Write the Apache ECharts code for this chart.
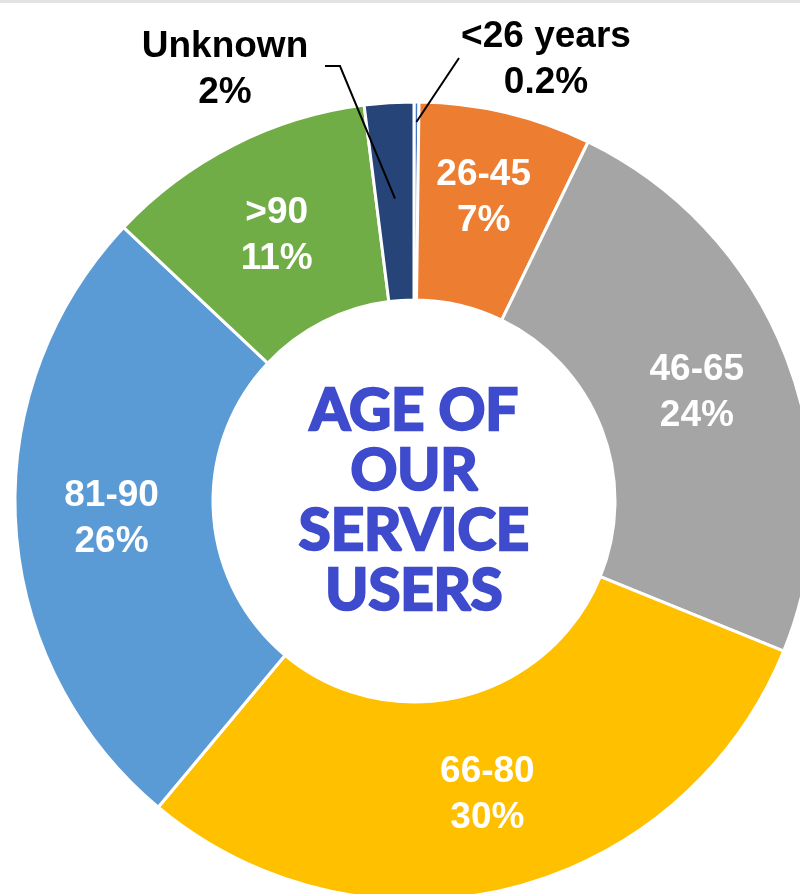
<!DOCTYPE html>
<html>
<head>
<meta charset="utf-8">
<script src="https://cdn.jsdelivr.net/npm/echarts@6/dist/echarts.min.js"></script>
<style>
  html, body { margin: 0; padding: 0; background: #fff; }
  #chart { width: 800px; height: 894px; }
</style>
</head>
<body>
<div id="chart"></div>
<script>
// age bands, clockwise from the top
var categories = ['<26 years', '26-45', '46-65', '66-80', '81-90', '>90', 'Unknown'];
var shares = [0.2, 7, 24, 30, 26, 11, 2];
var colors = ['#4472C4', '#ED7D31', '#A5A5A5', '#FFC000', '#5B9BD5', '#70AD47', '#264478'];
var centerTitle = 'AGE OF\nOUR\nSERVICE\nUSERS';

var cx = 414, cy = 501, r0 = 201, r1 = 399;
var total = shares.reduce(function (a, b) { return a + b; }, 0);

// point on the ring at the middle of slice i, at radius r
function slicePoint(i, r) {
    var before = 0;
    for (var k = 0; k < i; k++) before += shares[k];
    var a = (before + shares[i] / 2) / total * 2 * Math.PI;
    return [cx + r * Math.sin(a), cy - r * Math.cos(a)];
}

// labels placed above the ring for the two thin slices
var callouts = {
    '<26 years': { x: 546, y: 60, line: [[459, 58]], depth: 379 },
    'Unknown': { x: 225, y: 70, line: [[340, 66], [325, 66]], depth: 303 }
};
// small nudges to match where the inside labels sit
var nudge = { '26-45': -8, '>90': 5 };

var leaders = categories.map(function (c, i) {
    if (!callouts[c]) return null;
    return {
        type: 'polyline',
        z: 10,
        shape: { points: [slicePoint(i, callouts[c].depth)].concat(callouts[c].line) },
        style: { stroke: '#000', lineWidth: 2, fill: null }
    };
}).filter(Boolean);

var chart = echarts.init(document.getElementById('chart'));

chart.setOption({
    animation: false,
    graphic: [{
        type: 'rect',
        shape: { x: 0, y: 0, width: 800, height: 3 },
        style: { fill: '#e2e2e2' }
    }, {
        type: 'text',
        x: cx,
        y: cy,
        style: {
            text: centerTitle,
            align: 'center',
            verticalAlign: 'middle',
            font: 'bold 58px Lato',
            lineHeight: 60,
            fill: '#3E4BCD',
            stroke: '#3E4BCD',
            lineWidth: 2.5,
            lineJoin: 'round'
        }
    }].concat(leaders),
    series: [{
        type: 'pie',
        center: [cx, cy],
        radius: [r0, r1],
        startAngle: 90,
        clockwise: true,
        itemStyle: { borderColor: '#fff', borderWidth: 3 },
        label: {
            position: 'inside',
            formatter: '{b}\n{c}%',
            color: '#fff',
            fontFamily: 'Liberation Sans',
            fontWeight: 'bold',
            fontSize: 37,
            lineHeight: 46
        },
        labelLine: { show: false },
        labelLayout: function (p) {
            var name = categories[p.dataIndex];
            if (callouts[name]) {
                return { x: callouts[name].x, y: callouts[name].y, align: 'center', verticalAlign: 'middle' };
            }
            if (nudge[name]) return { dy: nudge[name] };
        },
        data: categories.map(function (c, i) {
            var d = { name: c, value: shares[i], itemStyle: { color: colors[i] } };
            if (callouts[c]) {
                d.label = { position: 'outside', color: '#000' };
            }
            return d;
        })
    }]
});
</script>
</body>
</html>
